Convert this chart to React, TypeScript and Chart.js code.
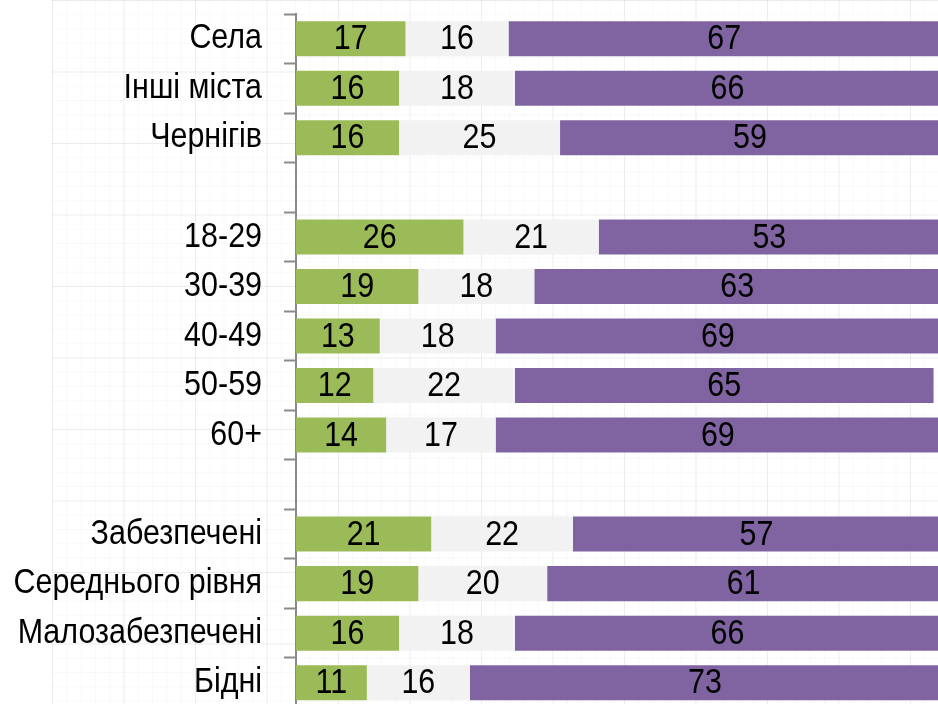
import React, { useEffect, useRef } from "react";
import { Chart, registerables } from "chart.js";

Chart.register(...registerables);

const categories: string[] = [
  "Села",
  "Інші міста",
  "Чернігів",
  "",
  "18-29",
  "30-39",
  "40-49",
  "50-59",
  "60+",
  "",
  "Забезпечені",
  "Середнього рівня",
  "Малозабезпечені",
  "Бідні",
];

const greenValues: (number | null)[] = [17, 16, 16, null, 26, 19, 13, 12, 14, null, 21, 19, 16, 11];
const grayValues: (number | null)[] = [16, 18, 25, null, 21, 18, 18, 22, 17, null, 22, 20, 18, 16];
const purpleValues: (number | null)[] = [67, 66, 59, null, 53, 63, 69, 65, 69, null, 57, 61, 66, 73];

const FONT = "'Liberation Sans', Arial, sans-serif";
const FONT_SIZE = 35;
const NARROW = 0.87;
const TICK_LEN = 12;
const TICK_PAD = 22;

const valueLabels = {
  id: "valueLabels",
  afterDatasetsDraw(chart: any) {
    const ctx = chart.ctx;
    ctx.save();
    ctx.font = `${FONT_SIZE}px ${FONT}`;
    ctx.fillStyle = "#000";
    ctx.textAlign = "center";
    ctx.textBaseline = "middle";
    chart.data.datasets.forEach((ds: any, di: number) => {
      const meta = chart.getDatasetMeta(di);
      meta.data.forEach((bar: any, i: number) => {
        const v = ds.data[i];
        if (v === null || v === undefined) return;
        const { x, base, y } = bar.getProps(["x", "base", "y"], true);
        const cx = (x + base) / 2;
        ctx.save();
        ctx.translate(cx, y + 1);
        ctx.scale(NARROW, 1);
        ctx.fillText(String(v), 0, 0);
        ctx.restore();
      });
    });
    ctx.restore();
  },
};

// condense the y-axis tick labels horizontally (Arial Narrow look)
const narrowTicks = {
  id: "narrowTicks",
  afterLayout(chart: any) {
    const s = chart.scales.y;
    if (!s || s._narrowPatched) return;
    const orig = s.drawLabels.bind(s);
    s._computeLabelArea = () => undefined;
    s.drawLabels = (area: any) => {
      const ctx = s.ctx;
      const x0 = s.right - TICK_LEN - TICK_PAD;
      ctx.save();
      ctx.translate(x0, 0);
      ctx.scale(NARROW, 1);
      ctx.translate(-x0, 0);
      orig(area);
      ctx.restore();
    };
    s._narrowPatched = true;
  },
};

export default function App() {
  const ref = useRef<HTMLCanvasElement | null>(null);
  useEffect(() => {
    if (!ref.current) return;
    // add an empty trailing row so the axis extends below like in the reference
    const labels = [...categories, ""];
    const pad = (a: (number | null)[]) => [...a, null];
    const chart = new Chart(ref.current, {
      type: "bar",
      data: {
        labels,
        datasets: [
          { data: pad(greenValues), backgroundColor: "#9BBB59", borderWidth: 0 },
          { data: pad(grayValues), backgroundColor: "#F2F2F2", borderWidth: 0 },
          { data: pad(purpleValues), backgroundColor: "#8064A2", borderWidth: 0 },
        ],
      },
      options: {
        indexAxis: "y",
        responsive: false,
        animation: false,
        devicePixelRatio: 1,
        layout: { padding: { top: 14, right: 4, bottom: 3, left: 0 } },
        plugins: { legend: { display: false }, tooltip: { enabled: false } },
        datasets: { bar: { categoryPercentage: 0.707, barPercentage: 1 } },
        scales: {
          x: { stacked: true, min: 0, max: 100, display: false },
          y: {
            stacked: true,
            afterFit: (s: any) => {
              s.width = 296;
              s.paddingTop = 0;
              s.paddingBottom = 0;
            },
            grid: {
              drawOnChartArea: false,
              drawTicks: true,
              tickLength: TICK_LEN,
              tickWidth: 2,
              color: "#8a8a8a",
            },
            border: { display: true, color: "#8a8a8a", width: 2 },
            ticks: {
              padding: TICK_PAD,
              color: "#000",
              font: { family: FONT, size: FONT_SIZE },
            },
          },
        },
      },
      plugins: [narrowTicks, valueLabels],
    });
    return () => chart.destroy();
  }, []);

  const grid =
    "linear-gradient(to right, rgba(0,0,0,0.05) 1px, transparent 1px)," +
    "linear-gradient(to bottom, rgba(0,0,0,0.05) 1px, transparent 1px)," +
    "linear-gradient(to right, rgba(0,0,0,0.022) 1px, transparent 1px)," +
    "linear-gradient(to bottom, rgba(0,0,0,0.022) 1px, transparent 1px)";

  return (
    <div
      style={{
        position: "fixed",
        left: 0,
        top: 0,
        width: 938,
        height: 704,
        overflow: "hidden",
        background: "#fff",
      }}
    >
      <div
        style={{
          position: "absolute",
          left: 52,
          top: 0,
          right: 0,
          bottom: 0,
          backgroundImage: grid,
          backgroundSize: "71.5px 71.5px, 71.5px 71.5px, 14.3px 14.3px, 14.3px 14.3px",
        }}
      />
      <canvas
        ref={ref}
        width={944}
        height={760}
        style={{ position: "absolute", left: 0, top: 0, width: 944, height: 760 }}
      />
    </div>
  );
}
